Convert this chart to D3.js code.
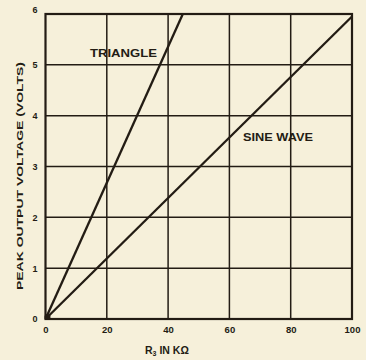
<!DOCTYPE html>
<html>
<head>
<meta charset="utf-8">
<script src="https://cdn.jsdelivr.net/npm/d3@7"></script>
<style>
  html, body { margin: 0; padding: 0; background: #f6f0da; }
  svg { display: block; }
  text { font-family: "Liberation Sans", Arial, sans-serif; font-weight: bold; fill: #231c14; }
</style>
</head>
<body>
<svg id="chart" width="366" height="360"></svg>
<script>
// Peak output voltage vs. timing resistor R3
const xTicks = [0, 20, 40, 60, 80, 100];
const yTicks = [0, 1, 2, 3, 4, 5, 6];
const triangleR = [0, 44.8];
const triangleV = [0, 6];
const sineR = [0, 100];
const sineV = [0, 5.95];

const ink = "#231c14";
const svg = d3.select("#chart");

const x = d3.scaleLinear().domain([0, 100]).range([45.5, 352]);
const y = d3.scaleLinear().domain([0, 6]).range([319, 14]);

// grid
svg.append("g").selectAll("line.v").data(xTicks.slice(1, -1)).join("line")
  .attr("x1", d => x(d)).attr("x2", d => x(d))
  .attr("y1", y(0)).attr("y2", y(6))
  .attr("stroke", ink).attr("stroke-width", 1.5);
svg.append("g").selectAll("line.h").data(yTicks.slice(1, -1)).join("line")
  .attr("x1", x(0)).attr("x2", x(100))
  .attr("y1", d => y(d)).attr("y2", d => y(d))
  .attr("stroke", ink).attr("stroke-width", 1.5);

// frame
svg.append("rect")
  .attr("x", x(0)).attr("y", y(6))
  .attr("width", x(100) - x(0)).attr("height", y(0) - y(6))
  .attr("fill", "none").attr("stroke", ink).attr("stroke-width", 2.2);

// tick labels
const fmt = d3.format("d");
const xAxis = d3.axisBottom(x).tickValues(xTicks).tickFormat(fmt).tickSize(0).tickPadding(7);
svg.append("g").attr("transform", `translate(0,${y(0)})`).call(xAxis)
  .call(g => g.select(".domain").remove())
  .selectAll("text").attr("font-size", 9.5).attr("font-family", null).attr("fill", ink);

const yAxis = d3.axisLeft(y).tickValues(yTicks).tickFormat(fmt).tickSize(0).tickPadding(8);
svg.append("g").attr("transform", `translate(${x(0)},0)`).call(yAxis)
  .call(g => g.select(".domain").remove())
  .selectAll("text").attr("font-size", 9).attr("font-family", null).attr("fill", ink)
  .attr("dy", d => d === 6 ? "-0.15em" : "0.32em");

// curves
const line = d3.line().x(d => x(d[0])).y(d => y(d[1]));
const series = [
  d3.zip(triangleR, triangleV),
  d3.zip(sineR, sineV)
];
svg.append("g").selectAll("path").data(series).join("path")
  .attr("d", line)
  .attr("fill", "none").attr("stroke", ink).attr("stroke-width", 2.3);
svg.append("circle").attr("cx", x(0) + 2).attr("cy", y(0) - 2).attr("r", 3).attr("fill", ink);

// curve labels
svg.append("text").attr("x", 90).attr("y", 57)
  .attr("font-size", 11).attr("textLength", 67).attr("lengthAdjust", "spacingAndGlyphs")
  .text("TRIANGLE");
svg.append("text").attr("x", 243).attr("y", 141)
  .attr("font-size", 11).attr("textLength", 70).attr("lengthAdjust", "spacingAndGlyphs")
  .text("SINE WAVE");

// axis titles
svg.append("text")
  .attr("transform", `translate(23,176) rotate(-90)`)
  .attr("text-anchor", "middle").attr("font-size", 9.5)
  .attr("textLength", 228).attr("lengthAdjust", "spacingAndGlyphs")
  .text("PEAK OUTPUT VOLTAGE (VOLTS)");

const xt = svg.append("text").attr("x", 145).attr("y", 354).attr("font-size", 10.5);
xt.append("tspan").text("R");
xt.append("tspan").attr("font-size", 7).attr("dy", 2).text("3");
xt.append("tspan").attr("dy", -2).text(" IN KΩ");
</script>
</body>
</html>
